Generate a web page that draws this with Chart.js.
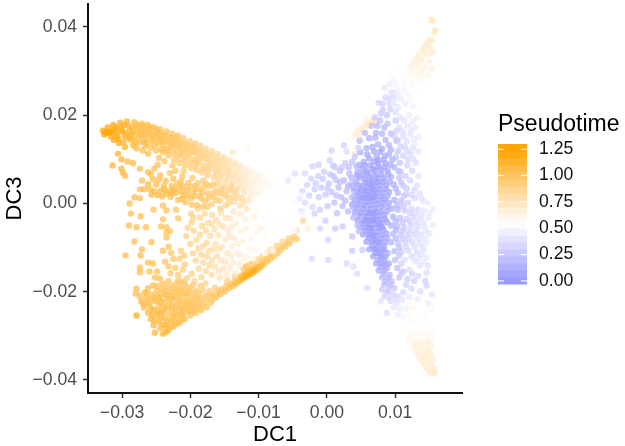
<!DOCTYPE html>
<html>
<head>
<meta charset="utf-8">
<style>
  html, body { margin: 0; padding: 0; background: #fff; }
  #wrap { width: 625px; height: 446px; }
</style>
<script src="https://cdn.jsdelivr.net/npm/chart.js@4"></script>
</head>
<body>
<div id="wrap"><canvas id="dcPlot" width="625" height="446"></canvas></div>
<script>
// each point is [DC1, DC3, pseudotime]
const faintBridge = [
[-.0085,.0022,.56],[-.0078,.0005,.55],[-.0072,.0028,.54],[-.0066,-.0012,.55],[-.006,.0012,.54],[-.0056,.0034,.53],[-.0052,-.0028,.54],[-.0046,.0006,.52],[-.0044,.0042,.52],[-.0094,-.0036,.58],
[-.0088,-.0058,.57],[-.0072,-.0044,.56],[-.0064,-.0066,.54],[-.0058,-.0046,.53],[-.0102,-.0018,.6],[-.0108,.0012,.62],[-.0098,.0036,.6],[-.0048,-.0062,.52],[-.0036,-.0022,.51],[-.0038,.0018,.5]
];
const upperArm = [
[-.0328,.0165,1.25],[-.0326,.0156,1.24],[-.0321,.0172,1.23],[-.0319,.016,1.24],[-.0316,.0151,1.22],[-.0313,.0178,1.2],[-.0311,.0168,1.22],[-.0308,.0158,1.2],[-.0306,.0146,1.18],[-.0303,.0183,1.15],
[-.0301,.0173,1.17],[-.0299,.0163,1.15],[-.0296,.0153,1.14],[-.0298,.0139,1.15],[-.0293,.0186,1.12],[-.0291,.0176,1.12],[-.0289,.0166,1.1],[-.0287,.0156,1.1],[-.0288,.0145,1.1],[-.0284,.0132,1.08],
[-.0282,.0184,1.1],[-.028,.0172,1.08],[-.0278,.0162,1.08],[-.0276,.015,1.07],[-.0274,.0139,1.07],[-.0271,.0181,1.06],[-.0269,.017,1.06],[-.0267,.0158,1.06],[-.0265,.0146,1.05],[-.0266,.0131,1.05],
[-.0262,.0178,1.05],[-.026,.0166,1.05],[-.0258,.0154,1.05],[-.0256,.0141,1.04],[-.0258,.0126,1.05],[-.0253,.0173,1.04],[-.0251,.0162,1.03],[-.0249,.015,1.03],[-.0247,.0137,1.02],[-.025,.012,1.03],
[-.0244,.0168,1.02],[-.0243,.0157,1.02],[-.0241,.0145,1.02],[-.0239,.0132,1.01],[-.024,.0116,1.01],[-.0235,.0163,1.01],[-.0234,.0151,1.01],[-.0232,.014,1],[-.023,.0126,1],[-.0232,.0109,1],
[-.0227,.0158,1],[-.0225,.0146,1],[-.0223,.0134,.99],[-.0221,.012,.98],[-.0224,.0099,.98],[-.0218,.0154,.98],[-.0217,.0141,.97],[-.0215,.0128,.97],[-.0213,.0112,.96],[-.0216,.0092,.97],
[-.021,.0148,.96],[-.0208,.0136,.96],[-.0206,.0122,.95],[-.0204,.0106,.95],[-.0208,.0086,.95],[-.0201,.0141,.94],[-.0199,.0129,.94],[-.0197,.0116,.93],[-.0196,.0099,.93],[-.0199,.0081,.94],
[-.0193,.0136,.92],[-.0191,.0123,.92],[-.0189,.0109,.91],[-.0187,.0092,.91],[-.0191,.0076,.92],[-.0185,.0131,.9],[-.0183,.0117,.9],[-.0181,.0102,.89],[-.0179,.0086,.89],[-.0183,.007,.9],
[-.0177,.0124,.88],[-.0175,.011,.88],[-.0173,.0095,.87],[-.0171,.0079,.87],[-.0175,.0064,.88],[-.0168,.0118,.86],[-.0166,.0103,.86],[-.0164,.0088,.85],[-.0162,.0072,.85],[-.0166,.0059,.85],
[-.016,.0112,.84],[-.0158,.0097,.83],[-.0156,.0081,.83],[-.0154,.0066,.82],[-.0158,.0053,.83],[-.0151,.0105,.81],[-.0149,.009,.81],[-.0147,.0075,.8],[-.0145,.006,.8],[-.0149,.0047,.8],
[-.0143,.0098,.79],[-.0141,.0083,.78],[-.0139,.0068,.78],[-.0137,.0053,.77],[-.0134,.0092,.76],[-.0132,.0076,.75],[-.013,.0061,.75],[-.0128,.0046,.74],[-.0126,.0084,.73],[-.0124,.0069,.72],
[-.0122,.0054,.72],[-.012,.0038,.71],[-.0117,.0078,.7],[-.0115,.0062,.69],[-.0113,.0047,.68],[-.0111,.0031,.68],[-.0108,.0071,.66],[-.0106,.0055,.65],[-.0104,.004,.65],[-.0102,.0024,.64],
[-.0099,.0063,.63],[-.0097,.0048,.62],[-.0095,.0033,.61],[-.009,.0055,.6],[-.0088,.004,.59],[-.0082,.0048,.58],[-.0079,.0032,.57],[-.0072,.0041,.56],[-.0138,.0116,.72],[-.0117,.0125,.62],
[-.0312,.0144,1.18],[-.0305,.0137,1.17],[-.0296,.0128,1.14],[-.0279,.0125,1.08],[-.027,.012,1.07],[-.0262,.0113,1.05],[-.0246,.0103,1.02],[-.0238,.0096,1],[-.0226,.0086,.99],[-.021,.0073,.96],
[-.0318,.0163,1.23],[-.0302,.0166,1.16],[-.0285,.0161,1.1],[-.0272,.0155,1.07],[-.0255,.0147,1.04],[-.0242,.0139,1.02],[-.0228,.013,1],[-.0212,.0121,.97],[-.0202,.0112,.94],[-.0188,.0101,.92],
[-.0172,.0087,.87],[-.0159,.0074,.84],[-.0144,.0072,.8],[-.0135,.0062,.76],[-.0121,.0062,.72],[-.0107,.0047,.66],[-.0277,.0178,1.08],[-.0249,.0168,1.03],[-.0222,.015,.99],[-.0195,.0128,.93],
[-.0264,.0136,1.05],[-.0236,.0124,1],[-.0218,.0106,.97],[-.0193,.0094,.92],[-.0176,.0079,.88],[-.0163,.0064,.85],[-.0147,.0054,.8],[-.0131,.0052,.75],[-.0116,.0038,.69],[-.0098,.0026,.62],
[-.0324,.0161,1.24],[-.0315,.0163,1.22],[-.0309,.0173,1.2],[-.0307,.0152,1.19],[-.0297,.0178,1.14],[-.0295,.0159,1.13],[-.0291,.0149,1.12],[-.0286,.0172,1.1],[-.0283,.0148,1.09],[-.0281,.0138,1.08],
[-.0273,.0166,1.07],[-.0268,.0175,1.06],[-.0268,.0141,1.06],[-.0263,.0159,1.05],[-.0259,.0172,1.05],[-.0254,.0156,1.04],[-.0252,.0133,1.04],[-.0247,.016,1.03],[-.0245,.0147,1.03],[-.0243,.0123,1.02],
[-.0238,.0155,1.01],[-.0236,.0143,1.01],[-.0233,.0118,1],[-.0229,.0149,1],[-.0226,.0138,1],[-.0224,.0113,.98],[-.022,.0144,.98],[-.0219,.0131,.97],[-.0214,.0137,.97],[-.0211,.0114,.96],
[-.0209,.0099,.96],[-.0205,.0132,.95],[-.0203,.0124,.94],[-.0201,.0092,.94],[-.0194,.0116,.93],[-.0192,.0085,.92],[-.0186,.0123,.9],[-.0184,.0109,.9],[-.0182,.0079,.9],[-.0178,.0116,.88],
[-.0176,.0101,.88],[-.0174,.0071,.87],[-.0169,.011,.86],[-.0167,.0094,.86],[-.0165,.0079,.85],[-.0161,.0103,.84],[-.0157,.0088,.83],[-.0155,.0059,.82],[-.0152,.0097,.81],[-.015,.0082,.81],
[-.0146,.0068,.8],[-.0142,.0089,.78],[-.014,.0061,.78],[-.0136,.0084,.77],[-.0133,.0069,.75],[-.0129,.0079,.73],[-.0127,.0054,.73],[-.0125,.0038,.72],[-.0119,.0071,.7],[-.0118,.0047,.7],
[-.0112,.0065,.67],[-.0109,.0039,.66],[-.0103,.006,.64],[-.0101,.0034,.63],[-.0093,.0045,.61],[-.0091,.0062,.6],[-.0086,.0049,.59],[-.0083,.0036,.58],[-.0076,.0046,.56],[-.007,.0034,.55]
];
const middleBand = [
[-.0314,.0086,1.12],[-.0301,.0079,1.1],[-.0299,.007,1.09],[-.0296,.0063,1.08],[-.0306,.0113,1.12],[-.0301,.01,1.1],[-.0292,.0095,1.08],[-.0284,.0091,1.08],[-.0274,.0079,1.06],[-.0271,.0052,1.05],
[-.0262,.0071,1.05],[-.0258,.0067,1.04],[-.0253,.0079,1.03],[-.0248,.0088,1.02],[-.0255,.0055,1.05],[-.0262,.0043,1.08],[-.0259,.0032,1.07],[-.0257,.002,1.08],[-.025,.0043,1.07],[-.0246,.0054,1.05],
[-.0244,.0028,1.08],[-.0241,.0016,1.06],[-.0239,.0039,1.07],[-.0236,.0051,1.05],[-.0232,.0028,1.06],[-.0229,.0015,1.05],[-.0227,.0039,1.05],[-.0225,.0056,1.03],[-.0221,.0024,1.05],[-.0218,.0008,1.04],
[-.0216,.0036,1.04],[-.0214,.005,1.02],[-.021,.0018,1.03],[-.0207,.0003,1.02],[-.0205,.003,1.03],[-.0203,.0047,1],[-.0199,.0012,1.01],[-.0196,.0025,1.01],[-.0193,.004,.99],[-.019,-.0004,1],
[-.0187,.0017,.99],[-.0185,.0032,.98],[-.0181,.0052,.96],[-.0178,.0006,.97],[-.0175,.0023,.97],[-.0172,.0039,.95],[-.0169,-.0002,.95],[-.0166,.0014,.95],[-.0163,.003,.93],[-.016,.0045,.92],
[-.0157,.0006,.93],[-.0154,.0022,.92],[-.0151,.0038,.9],[-.0148,-.0004,.9],[-.0145,.0013,.89],[-.0142,.003,.88],[-.0139,.0044,.87],[-.0136,.0005,.86],[-.0133,.0021,.86],[-.013,.0034,.84],
[-.0127,-.0005,.82],[-.0124,.0012,.82],[-.0121,.0026,.8],[-.0118,-.0012,.76],[-.0114,.0008,.75],[-.0111,.0018,.73],[-.0244,.0064,1.03],[-.023,.0069,1.01],[-.0212,.0061,1],[-.0197,.0058,.98],
[-.0268,.0032,1.06],[-.0274,.0012,1.05],[-.0222,.0074,1],[-.0204,.0018,1.03],[-.0184,.0011,1],[-.0168,.0022,.96],[-.0149,.0018,.91],[-.0175,-.0008,.95],[-.0156,-.0012,.9],[-.0224,.0031,1.07],
[-.0235,.0022,1.08],[-.0211,.0039,1.05],[-.0192,.0032,1.01],[-.0177,.0044,.97],[-.0162,.0008,.94],[-.0143,.0002,.88],[-.0138,.0015,.87],[-.0212,.001,1.04],[-.0198,-.0003,1],[-.0181,-.0007,.98],
[-.0253,.0027,1.07],[-.0248,.0019,1.07],[-.0238,.0031,1.07],[-.0226,.0023,1.06],[-.0219,.0045,1.03],[-.0213,.0027,1.04],[-.0201,.0038,1.02],[-.0194,.0017,1],[-.0189,.0046,.98],[-.0183,.0024,.99],
[-.018,.0037,.98],[-.0173,.0013,.96],[-.0167,.0043,.95],[-.0159,.0024,.94],[-.0155,.0032,.92],[-.0146,.0029,.89],[-.0141,.0037,.88],[-.0135,.0029,.86],[-.0129,.0013,.84],[-.0122,.0003,.8]
];
const innerScatter = [
[-.0289,0,1.05],[-.0282,.0014,1.05],[-.0274,.0032,1.05],[-.0287,-.0023,1.05],[-.0273,-.0029,1.05],[-.029,-.005,1.05],[-.0279,-.0054,1.05],[-.0265,-.0054,1.05],[-.0282,-.0086,1.05],[-.0257,-.0088,1.05],
[-.0295,-.0118,1.05],[-.0273,-.0118,1.05],[-.0271,-.0104,1.05],[-.0262,-.0134,1.05],[-.0255,-.0136,1.04],[-.0274,-.0145,1.05],[-.0274,-.0156,1.05],[-.026,-.0154,1.04],[-.0249,-.0154,1.03],[-.0252,-.0168,1.04],
[-.0245,-.017,1.03],[-.0254,-.0014,1.03],[-.024,-.0005,1.02],[-.0235,-.0016,1.02],[-.0221,-.0014,1],[-.0218,-.0034,1],[-.024,-.0036,1.02],[-.0243,-.0052,1.03],[-.0235,-.0054,1],[-.0235,-.0066,1],
[-.023,-.0063,1],[-.0235,-.0077,1],[-.0232,-.0098,1],[-.024,-.0107,1.02],[-.0228,-.0112,.98],[-.0225,-.0126,.98],[-.0237,-.0132,1],[-.0232,-.0143,.98],[-.0222,-.0146,.97],[-.0229,-.0158,.97],
[-.0218,-.0162,.96],[-.0214,-.0107,.94],[-.0216,-.0125,.95],[-.0209,-.0118,.93],[-.0208,-.0138,.93],[-.0211,-.015,.94],[-.02,-.0092,.9],[-.0206,-.0074,.92],[-.0204,-.0055,.9],[-.0198,-.0043,.9],
[-.0195,-.0062,.88],[-.0199,-.0023,.92],[-.0189,-.0012,.9],[-.0186,-.0032,.87],[-.0183,-.0051,.87],[-.0191,-.0082,.87],[-.0186,-.0071,.86],[-.0188,-.0102,.87],[-.0196,-.0113,.9],[-.0184,-.0116,.86],
[-.0192,-.0129,.88],[-.0181,-.0134,.85],[-.0188,-.0148,.87],[-.0177,-.0153,.84],[-.0198,-.0159,.9],[-.0184,-.0167,.86],[-.0173,-.0108,.83],[-.0176,-.0089,.84],[-.0171,-.0073,.82],[-.0174,-.0044,.84],
[-.0168,-.0026,.84],[-.0162,-.0038,.82],[-.0165,-.0058,.8],[-.0159,-.0072,.78],[-.0163,-.0092,.8],[-.0154,-.0098,.76],[-.0161,-.0119,.8],[-.0168,-.0128,.82],[-.0155,-.0129,.76],[-.0164,-.0143,.8],
[-.0152,-.0147,.76],[-.0169,-.0162,.82],[-.0157,-.0168,.78],[-.0147,-.016,.74],[-.0146,-.0112,.74],[-.0149,-.0083,.74],[-.0145,-.0062,.73],[-.0152,-.0052,.76],[-.0142,-.0034,.74],[-.0155,-.0022,.78],
[-.0137,-.0018,.73],[-.0134,-.0046,.7],[-.0136,-.0078,.7],[-.0139,-.0097,.7],[-.0132,-.0113,.68],[-.0137,-.0133,.7],[-.0128,-.0141,.68],[-.0134,-.0158,.7],[-.0123,-.0086,.65],[-.0126,-.0062,.66],
[-.012,-.0036,.68],[-.0118,-.0057,.66],[-.0113,-.0103,.63],[-.0118,-.0122,.64],[-.0108,-.0125,.62],[-.0105,-.0106,.6],[-.0112,-.0079,.62],[-.0104,-.0052,.6],[-.0098,-.0098,.58],[-.0092,-.0075,.6],
[-.0102,-.0066,.63],[-.0096,-.0056,.65],[-.0106,-.0031,.66],[-.0091,-.0112,.6],[-.0085,-.0092,.58],[-.0079,-.0108,.62],[-.0127,-.0024,.72],[-.0216,-.0176,.96],[-.0205,-.017,.93],[-.0194,-.0176,.9],
[-.0196,-.0032,.9],[-.0179,-.0023,.86],[-.0177,-.0062,.84],[-.0169,-.0046,.82],[-.0157,-.0047,.78],[-.0148,-.0033,.76],[-.0181,-.0096,.85],[-.0167,-.0104,.82],[-.0159,-.0103,.78],[-.0176,-.012,.84],
[-.0172,-.014,.83],[-.0158,-.0153,.78],[-.0149,-.0132,.75],[-.0142,-.0145,.72],[-.0141,-.0119,.72],[-.0127,-.0116,.68],[-.0125,-.0132,.66],[-.0131,-.0091,.68],[-.0143,-.0075,.72],[-.014,-.0053,.72]
];
const lowerCluster = [
[-.0279,-.0193,1.05],[-.028,-.0204,1.05],[-.0267,-.0202,1.04],[-.0255,-.0186,1.04],[-.0279,-.0254,1.18],[-.0274,-.021,1.05],[-.0262,-.0192,1.04],[-.0248,-.0187,1.03],[-.024,-.0182,1.02],[-.0232,-.0176,1.01],
[-.0272,-.0222,1.05],[-.0265,-.0214,1.05],[-.0257,-.0206,1.04],[-.0249,-.0199,1.04],[-.0241,-.0194,1.03],[-.0233,-.019,1.02],[-.0225,-.0186,1],[-.0217,-.0188,1],[-.0208,-.0183,.98],[-.02,-.019,.96],
[-.0268,-.0236,1.06],[-.026,-.0228,1.05],[-.0252,-.0221,1.05],[-.0244,-.0213,1.04],[-.0236,-.0207,1.03],[-.0228,-.0201,1.02],[-.022,-.0199,1],[-.0212,-.0197,.99],[-.0203,-.0201,.98],[-.0195,-.0203,.96],
[-.0262,-.0248,1.08],[-.0254,-.024,1.07],[-.0246,-.0231,1.05],[-.0238,-.0224,1.04],[-.023,-.0217,1.03],[-.0222,-.0212,1.02],[-.0214,-.021,1],[-.0206,-.0212,.99],[-.0198,-.0213,.98],[-.019,-.021,.96],
[-.0258,-.0262,1.1],[-.025,-.0254,1.08],[-.0242,-.0246,1.06],[-.0234,-.0238,1.05],[-.0226,-.023,1.04],[-.0218,-.0224,1.02],[-.021,-.0222,1],[-.0202,-.0224,.99],[-.0194,-.0224,.98],[-.0186,-.0222,.96],
[-.0254,-.0276,1.1],[-.0246,-.0268,1.08],[-.0238,-.026,1.07],[-.023,-.0252,1.05],[-.0222,-.0244,1.04],[-.0214,-.0236,1.02],[-.0206,-.0234,1],[-.0198,-.0235,.99],[-.019,-.0232,.98],[-.0178,-.0217,.96],
[-.0252,-.0293,1.12],[-.0244,-.0283,1.1],[-.0236,-.0274,1.08],[-.0228,-.0266,1.06],[-.022,-.0258,1.04],[-.0212,-.0249,1.02],[-.0204,-.0245,1],[-.0196,-.0244,1],[-.0172,-.0206,.96],[-.017,-.0225,1],
[-.024,-.0295,1.1],[-.0232,-.0287,1.08],[-.0224,-.0278,1.06],[-.0216,-.027,1.05],[-.0208,-.0262,1.03],[-.02,-.0254,1.02],[-.0192,-.0248,1],[-.0184,-.0242,1],[-.0167,-.0217,1],[-.0176,-.0235,1],
[-.0236,-.0292,1.1],[-.0228,-.0279,1.08],[-.0219,-.0272,1.05],[-.0212,-.0264,1.04],[-.0264,-.0202,1.05],[-.0243,-.0205,1.03],[-.0224,-.0193,1],[-.0211,-.0178,.97],[-.0196,-.0185,.95],[-.0182,-.0196,.94],
[-.0251,-.0212,1.05],[-.0237,-.0198,1.02],[-.0219,-.0177,.98],[-.0205,-.0206,.98],[-.0191,-.0198,.95],[-.0176,-.0208,.95],[-.0269,-.0228,1.06],[-.0246,-.0249,1.06],[-.0227,-.0241,1.04],[-.0209,-.0243,1],
[-.0188,-.0238,.98],[-.0256,-.0252,1.08],[-.0241,-.0275,1.08],[-.0225,-.0256,1.05],[-.0204,-.0224,1],[-.0192,-.0217,.97],[-.0183,-.0232,.98],[-.0233,-.0266,1.07],[-.0216,-.0251,1.02],[-.0198,-.0226,.99],
[-.0239,-.0235,1.05],[-.0216,-.0222,1],[-.0201,-.0243,1],[-.0247,-.0218,1.05],[-.0229,-.0209,1.02],[-.0258,-.0217,1.05],[-.0172,-.0198,.92],[-.0164,-.0191,.92],[-.0185,-.0187,.94],[-.0178,-.0181,.9],
[-.0253,-.0265,1.08],[-.0248,-.0243,1.06],[-.0243,-.0258,1.06],[-.0239,-.0247,1.05],[-.0235,-.0281,1.08],[-.0231,-.0229,1.03],[-.0223,-.0268,1.05],[-.0221,-.0234,1.02],[-.0213,-.0241,1.01],[-.0211,-.0255,1.02],
[-.0208,-.0228,.99],[-.0203,-.0236,1],[-.0199,-.0218,.98],[-.0194,-.0239,.99],[-.0187,-.0227,.96],[-.0181,-.0212,.94],[-.0179,-.0227,.96],[-.0174,-.0216,.95],[-.0243,-.0223,1.04],[-.0234,-.0212,1.02],
[-.0226,-.0216,1.01],[-.0218,-.0207,1],[-.0209,-.0203,.98],[-.0201,-.0197,.96],[-.0188,-.0203,.94],[-.0187,-.0216,.96],[-.0258,-.0238,1.07],[-.0263,-.0224,1.05],[-.0215,-.0196,.98],[-.0207,-.0191,.96]
];
const lowerEdge = [
[-.0168,-.0206,1.02],[-.0162,-.0212,1.04],[-.016,-.0198,1],[-.0154,-.0194,1.02],[-.0156,-.0205,1.05],[-.0149,-.0199,1.05],[-.0147,-.0186,1],[-.0143,-.0191,1.06],[-.014,-.0182,1.02],[-.0137,-.0187,1.06],
[-.0135,-.0176,1],[-.0133,-.0181,1.08],[-.013,-.017,1.05],[-.0128,-.0176,1.1],[-.0126,-.0165,1.06],[-.0124,-.0172,1.12],[-.0122,-.0161,1.08],[-.012,-.0167,1.2],[-.0118,-.0157,1.12],[-.0116,-.0163,1.22],
[-.0114,-.0153,1.1],[-.0112,-.016,1.22],[-.011,-.015,1.14],[-.0108,-.0156,1.2],[-.0106,-.0147,1.12],[-.0104,-.0152,1.18],[-.0102,-.0143,1.1],[-.01,-.0147,1.12],[-.0098,-.0138,1.06],[-.0096,-.0143,1.08],
[-.0094,-.0131,1.02],[-.0092,-.0137,1.04],[-.009,-.0125,1],[-.0087,-.0131,1.02],[-.0085,-.0119,.98],[-.0082,-.0125,1],[-.008,-.0112,.96],[-.0077,-.0119,.98],[-.0075,-.0106,.95],[-.0072,-.0113,.98],
[-.007,-.0099,.96],[-.0067,-.0105,.98],[-.0064,-.0094,.96],[-.0061,-.0098,.98],[-.0058,-.0088,.96],[-.0055,-.0091,.96],[-.0052,-.0082,.95],[-.0118,-.0143,1],[-.0108,-.0135,.95],[-.0101,-.0127,.9],
[-.0095,-.012,.88],[-.0122,-.0148,1],[-.0135,-.0165,.9],[-.0146,-.0175,.9],[-.0113,-.0138,.95],[-.0088,-.0112,.85],[-.0082,-.0104,.82],[-.0073,-.0095,.85],[-.0065,-.0086,.85],[-.0056,-.0079,.9],
[-.0048,-.0075,.95],[-.0044,-.0081,.95],[-.0035,-.0039,.85],[-.0044,-.0061,.8],[-.0028,-.0057,.7]
];
const blueWing = [
[-.004,.0012,.35],[-.0036,.0028,.32],[-.0032,.0002,.34],[-.0029,.0042,.3],[-.0026,.0018,.3],[-.0023,.0056,.3],[-.0021,-.0008,.32],[-.0018,.0032,.28],[-.0016,.0046,.28],[-.0013,.0062,.28],
[-.0012,.0014,.28],[-.001,-.0014,.28],[-.0008,.0036,.26],[-.0006,.0056,.26],[-.0004,.0072,.26],[-.0002,.002,.26],[.0001,-.0006,.24],[.0003,.0045,.24],[.0005,.0066,.24],[.0007,.0026,.24],
[.0009,.0086,.28],[.0011,.0002,.22],[.0013,.0054,.22],[.0015,-.0022,.22],[.0017,.0036,.2],[.0019,.0074,.22],[.0021,.0014,.2],[.0023,-.0006,.2],[.0025,.0052,.18],[.0027,.0092,.26],
[.0029,.0028,.18],[.0031,-.0018,.18],[.0033,.0068,.18],[.0035,.0043,.16],[.0037,.0014,.16],[.0039,-.0032,.15],[.0041,.0106,.25],[.0043,.0084,.18],[.0045,-.005,.17],[.0047,-.0063,.2],
[-.0022,-.0125,.34],[.0002,-.0128,.34],[.0029,-.0136,.34],[.0039,-.0143,.36],[.0044,-.0159,.36],[.0059,-.0191,.36],[.0079,-.0222,.4],[.0002,-.0082,.3],[.0037,-.0107,.26],[.0037,-.0075,.24],
[-.0002,-.0039,.28],[-.001,-.0057,.32],[.0012,-.0057,.26],[.0023,-.0052,.26],[-.0018,-.0023,.3],[-.0037,-.0018,.36],[.0007,.012,.32],[.0025,.0132,.3],[-.0021,.0084,.32],[-.0032,.0068,.34],
[-.0047,.0068,.38],[-.0057,.0052,.42],[.0004,.0098,.3],[.0022,.0082,.26],[.0029,.0118,.36],[.0012,.0082,.26],[-.0012,.0088,.3],[.0037,.0094,.22],[.0046,.0126,.3],[.0052,-.0105,.26],
[.0001,.0034,.25],[.001,.0062,.22],[.0014,.0018,.22],[.0019,.0048,.2],[.0027,.0006,.18],[.0031,.0039,.16],[.0032,.0082,.2],[.0036,.0058,.15],[.0038,-.0007,.13],[.004,.0028,.12]
];
const blueCore = [
[.0048,.0142,.18],[.0056,.016,.2],[.0062,.0148,.14],[.0066,.0176,.2],[.007,.0195,.26],[.0072,.016,.14],[.0078,.0188,.22],[.0082,.0212,.28],[.0075,.0134,.12],[.0084,.0172,.18],
[.0088,.02,.25],[.0092,.0226,.32],[.0094,.0158,.18],[.0086,.0144,.14],[.0076,.0228,.3],[.0086,.024,.34],[.0095,.0252,.38],[.0084,.0262,.42],[.0092,.027,.44],[.0099,.0242,.36],
[.0101,.0188,.26],[.0081,.0124,.1],[.0069,.0118,.1],[.0058,.0125,.1],[.0049,.0116,.1],[.0062,.0102,.08],[.0073,.0106,.08],[.0085,.0108,.1],[.0094,.0122,.14],[.0102,.0142,.2],
[.0054,.0094,.08],[.0045,.0071,.08],[.0064,.0086,.06],[.0075,.0092,.06],[.0086,.0091,.08],[.0096,.0099,.12],[.0052,.0078,.06],[.0061,.0068,.05],[.007,.0074,.05],[.0079,.0077,.06],
[.0089,.0074,.08],[.0099,.0082,.14],[.0048,.0058,.06],[.0056,.0056,.04],[.0066,.0053,.04],[.0075,.0058,.04],[.0084,.0057,.06],[.0094,.006,.1],[.0042,.0048,.07],[.0052,.0039,.04],
[.006,.0036,.03],[.0069,.0039,.03],[.0078,.0041,.04],[.0087,.0041,.07],[.0046,.0026,.05],[.0055,.002,.03],[.0064,.0022,.02],[.0073,.0024,.03],[.0082,.0024,.05],[.0091,.0026,.08],
[.0041,.0008,.06],[.0049,.0006,.03],[.0058,.0004,.02],[.0067,.0006,.02],[.0076,.0008,.03],[.0085,.0009,.06],[.0044,-.0011,.05],[.0053,-.0012,.02],[.0062,-.0014,.02],[.0071,-.0011,.02],
[.008,-.0008,.04],[.0089,-.0008,.07],[.0048,-.0028,.04],[.0057,-.003,.02],[.0066,-.0031,.01],[.0075,-.0028,.02],[.0084,-.0026,.05],[.0052,-.0046,.03],[.0061,-.0048,.01],[.007,-.0047,.01],
[.0079,-.0045,.03],[.0088,-.0042,.06],[.0056,-.0062,.03],[.0065,-.0064,.01],[.0074,-.0064,.01],[.0083,-.006,.04],[.0061,-.0078,.04],[.007,-.0082,.01],[.0079,-.008,.03],[.0088,-.0078,.08],
[.0066,-.0095,.05],[.0075,-.0098,.03],[.0084,-.0096,.06],[.0071,-.0112,.06],[.008,-.0114,.05],[.0089,-.0112,.1],[.0075,-.0128,.08],[.0084,-.013,.08],[.0079,-.0144,.1],[.0088,-.0146,.1],
[.0083,-.016,.14],[.0092,-.0162,.16],[.0086,-.0176,.18],[.0095,-.0176,.2],[.0091,-.019,.24],[.0099,-.0192,.26],[.0087,-.0202,.28],[.0097,-.0206,.32],[.0104,-.021,.34],[.0093,-.0221,.36],
[.0102,-.0224,.38],[.011,-.0218,.4],[.0098,-.0235,.42],[.0107,-.0238,.44],[.0088,-.0248,.36],[.0104,-.0252,.46],[.0115,-.0238,.48],[.0111,-.0258,.5],[.0058,-.0037,.02],[.0068,-.0023,.01],
[.0059,.0012,.02],[.0068,.0014,.02],[.0072,-.0037,.02],[.0063,-.0056,.01],[.0077,-.0055,.02],[.0055,.0029,.03],[.0069,.003,.02],[.0061,.0045,.03],[.0071,.0048,.03],[.0058,-.0021,.02],
[.0067,-.0072,.02],[.0074,-.0088,.02],[.0081,-.0104,.04],[.0086,-.0121,.06],[.0078,-.012,.06],[.0069,-.0103,.04],[.0083,-.0138,.08],[.0091,-.0136,.1],[.0064,.0012,.02],[.0049,.0016,.04],
[.0067,.0128,.1],[.0078,.0117,.08],[.0091,.0132,.14],[.0071,.0149,.14],[.0081,.0158,.16],[.0089,.0181,.2],[.0074,.0176,.18],[.0079,.0204,.26],[.0093,.0213,.3],[.0082,.0226,.3],
[.0091,.0238,.34],[.0075,.0098,.07],[.0059,.0111,.08],[.0083,.0099,.08],[.0091,.0111,.12],[.0056,.0086,.06],[.0069,.0095,.06],[.0047,.0087,.08],[.0058,.0073,.05],[.0067,.0079,.05],
[.0075,.0083,.05],[.0084,.0082,.07],[.0093,.0087,.1],[.0044,.0063,.07],[.0053,.0065,.05],[.0071,.0064,.04],[.008,.0067,.05],[.009,.0066,.08],[.0063,.0059,.04],[.0046,.0042,.06],
[.0056,.0047,.04],[.0065,.0044,.03],[.0075,.0049,.03],[.0083,.0049,.05],[.0092,.0049,.08],[.0039,.0035,.08],[.0049,.0031,.05],[.0058,.0028,.03],[.0066,.0031,.02],[.0077,.0032,.03],
[.0086,.0033,.06],[.0043,.0017,.07],[.0052,.0013,.03],[.0061,.0018,.02],[.0071,.0017,.02],[.008,.0016,.04],[.0089,.0017,.07],[.0037,-.0002,.08],[.0046,-.0002,.04],[.0055,-.0004,.02],
[.0064,-.0004,.01],[.0073,-.0001,.02],[.0082,.0001,.05],[.0091,.0002,.08],[.0041,-.002,.06],[.005,-.0021,.03],[.0063,-.0022,.01],[.0072,-.002,.01],[.0079,-.0019,.03],[.0088,-.0018,.06],
[.0045,-.0038,.05],[.0054,-.0039,.02],[.0063,-.004,.01],[.0068,-.0038,.01],[.0078,-.0036,.03],[.0085,-.0035,.05],[.0049,-.0055,.04],[.0058,-.0054,.02],[.0067,-.0056,.01],[.0076,-.0048,.02],
[.0081,-.0053,.03],[.0053,-.007,.05],[.0062,-.0071,.02],[.0071,-.0073,.01],[.008,-.0071,.03],[.0087,-.0068,.06],[.0058,-.0087,.05],[.0066,-.0087,.03],[.0077,-.0089,.03],[.0085,-.0087,.06],
[.0062,-.0104,.06],[.0072,-.0104,.04],[.0084,-.0105,.06],[.0068,-.012,.07],[.0075,-.0112,.05],[.0081,-.0122,.06],[.0072,-.0136,.08],[.0079,-.0135,.08],[.0087,-.0138,.1],[.0076,-.0152,.1],
[.0084,-.0152,.12],[.0081,-.0168,.16],[.009,-.0169,.18],[.0084,-.0183,.2],[.0094,-.0184,.22],[.0081,-.0195,.26],[.009,-.0198,.28],[.0084,-.0211,.32],[.0092,-.0214,.34],[.01,-.0216,.38]
];
const blueRight = [
[.0098,.0043,.14],[.0106,.0058,.22],[.0112,.004,.26],[.0104,.0024,.16],[.0116,.0021,.28],[.0122,.0052,.32],[.0128,.003,.34],[.0099,.0008,.12],[.0109,.0006,.2],[.0119,.0002,.28],
[.0129,.0012,.34],[.0136,.0022,.38],[.0142,.0005,.42],[.0095,-.0012,.1],[.0104,-.0014,.18],[.0114,-.0016,.26],[.0124,-.0012,.32],[.0133,-.0014,.36],[.0142,-.0016,.42],[.0156,-.0012,.45],
[.0097,-.003,.12],[.0107,-.0033,.2],[.0117,-.0035,.28],[.0127,-.003,.34],[.0137,-.0034,.38],[.0149,-.0032,.42],[.0094,-.005,.12],[.0103,-.0052,.18],[.0113,-.0054,.26],[.0123,-.005,.32],
[.0133,-.0052,.36],[.0143,-.0053,.4],[.0155,-.0048,.44],[.0097,-.0069,.16],[.0108,-.0071,.24],[.0118,-.0073,.3],[.0128,-.0069,.34],[.0138,-.0071,.38],[.015,-.0068,.42],[.0094,-.0088,.14],
[.0104,-.009,.24],[.0115,-.0088,.3],[.0125,-.0087,.34],[.0136,-.009,.38],[.0146,-.0088,.42],[.0099,-.0108,.18],[.0109,-.011,.26],[.0119,-.0107,.34],[.0132,-.0111,.36],[.0142,-.0105,.4],
[.01,-.0128,.2],[.0114,-.0128,.36],[.0123,-.013,.55],[.0134,-.0124,.42],[.0146,-.0123,.44],[.0103,-.0146,.22],[.0119,-.0146,.62],[.0127,-.0139,.6],[.0136,-.014,.4],[.0148,-.0141,.38],
[.0112,-.0154,.28],[.0125,-.0159,.3],[.0134,-.0164,.34],[.0146,-.0157,.36],[.0106,-.0168,.24],[.0118,-.0171,.26],[.0128,-.0175,.28],[.0144,-.0175,.3],[.0146,-.0186,.32],[.0116,-.0184,.3],
[.0124,-.0193,.32],[.0112,-.0201,.34],[.0137,-.0199,.36],[.0154,-.0206,.4],[.0121,-.0212,.44],[.0133,-.0217,.46],[.0148,-.0226,.46],[.0153,-.0238,.5],[.0105,.0073,.2],[.0115,.0062,.28],
[.0125,.0074,.34],[.0134,.0062,.4],[.0107,.0092,.24],[.0118,.0086,.3],[.013,.0092,.36],[.0112,.0108,.3],[.0123,.0112,.36],[.0134,.0118,.4],[.0115,.0127,.34],[.0128,.0134,.42],
[.0108,.0129,.3],[.0099,.0152,.3],[.0112,.0152,.38],[.0122,.0158,.4],[.0135,.0151,.45],[.0106,.0172,.36],[.0118,.0176,.42],[.013,.0172,.44],[.0108,.0195,.4],[.012,.02,.44],
[.0132,.0194,.46],[.0104,.0218,.42],[.0115,.0226,.45],[.0127,.022,.48],[.0106,.0245,.46],[.0119,.0248,.5],[.0098,.0282,.5],[.0112,.0272,.52],[.0124,.0268,.52],[.0106,.0296,.54],
[.0101,.0034,.14],[.0109,.0047,.22],[.0117,.0034,.28],[.0124,.0019,.32],[.0132,.0041,.38],[.0139,.0012,.4],[.0148,.0002,.44],[.0103,-.0004,.16],[.0112,-.0006,.24],[.0122,-.0022,.3],
[.013,-.0023,.36],[.0139,-.0025,.4],[.0151,-.0021,.44],[.0101,-.0041,.16],[.0111,-.0043,.24],[.0121,-.004,.3],[.0131,-.0042,.36],[.0141,-.0043,.4],[.0101,-.006,.16],[.0111,-.0062,.26],
[.0121,-.0063,.32],[.0131,-.0061,.36],[.0145,-.0062,.42],[.0101,-.0079,.18],[.0111,-.008,.28],[.0121,-.0078,.34],[.0133,-.0079,.38],[.0143,-.0079,.42],[.0106,-.0099,.22],[.0116,-.0098,.32],
[.0128,-.0098,.36],[.0139,-.0098,.4],[.0106,-.0118,.24],[.0124,-.012,.36],[.0139,-.0116,.4],[.0109,-.0137,.3],[.0129,-.0131,.4],[.0142,-.0133,.42],[.0109,-.0158,.26],[.0121,-.0151,.36],
[.0113,.0017,.26],[.0108,.0072,.24],[.0101,.0104,.22],[.0119,.0099,.32],[.0127,.0101,.36],[.0104,.0118,.26],[.0118,.0118,.34],[.0126,.0125,.4],[.0104,.0143,.28],[.0117,.0141,.36],
[.0128,.0146,.42],[.0102,.0165,.3],[.0111,.0163,.36],[.0124,.0167,.42],[.0101,.0206,.38],[.0113,.0188,.4],[.0125,.0185,.44],[.0098,.0228,.42],[.0109,.0236,.46],[.0121,.0235,.5],
[.0103,.0262,.5],[.0113,.0256,.5],[.0099,.0272,.5],[.0109,.0284,.54],[.0118,.0286,.56],[.0126,.0282,.56],[.0104,.031,.56],[.0095,.0296,.54],[.0115,.03,.56],[.0101,.0252,.44]
];
const topBranch = [
[.0157,.0388,.72],[.0159,.0392,.73],[.0152,.0416,.72],[.0155,.0414,.74],[.0149,.0368,.72],[.0154,.037,.72],[.0142,.0355,.7],[.0151,.0352,.7],[.0136,.0338,.68],[.0146,.0338,.7],
[.0154,.0342,.7],[.013,.0325,.67],[.0139,.0325,.68],[.015,.0322,.67],[.0124,.0312,.65],[.0134,.0312,.66],[.0144,.0308,.65],[.0154,.0305,.65],[.0121,.0295,.62],[.0131,.0296,.63],
[.014,.0292,.63],[.0149,.029,.62],[.0116,.0282,.58],[.0126,.028,.6],[.0136,.0278,.6],[.0145,.0276,.58],[.0111,.0268,.57],[.0135,.0262,.56],[.0141,.0346,.7],[.0146,.036,.71],
[.0133,.0332,.68],[.0128,.0318,.66],[.0137,.0302,.65],[.0125,.0302,.62],[.012,.0288,.6],[.0131,.0286,.61]
];
const midStreak = [
[.0058,.0182,.7],[.0066,.0186,.74],[.0072,.0188,.74],[.0052,.0172,.72],[.006,.0176,.74],[.0046,.0165,.7],[.0054,.0162,.71],[.004,.0152,.65],[.0048,.0154,.68],[.0034,.0146,.6],
[.0058,.0192,.65],[.0041,.0112,.72],[.002,.0055,.68],[.0014,.0044,.66],[.0033,.0068,.6],[.0058,.0025,.58],[.0088,.0008,.6],[.0066,.0065,.58],[.0042,.0158,.66],[.0063,.018,.73]
];
const bottomBranch = [
[.0159,-.0383,.72],[.0155,-.0385,.72],[.015,-.0381,.71],[.0156,-.0372,.71],[.0146,-.0372,.71],[.0152,-.0362,.7],[.0142,-.0362,.7],[.0147,-.0352,.69],[.0137,-.0352,.68],[.0156,-.0352,.69],
[.0152,-.0342,.69],[.0143,-.0342,.68],[.0133,-.0342,.68],[.0148,-.0332,.68],[.0139,-.0332,.68],[.013,-.0332,.66],[.0153,-.0325,.67],[.0144,-.0322,.66],[.0134,-.0322,.66],[.0125,-.0318,.64],
[.0151,-.0312,.65],[.0141,-.0312,.64],[.0131,-.0312,.64],[.012,-.0308,.61],[.0148,-.0298,.61],[.0137,-.0298,.61],[.0127,-.0298,.6],[.0117,-.0296,.58],[.0155,-.0296,.6],[.0142,-.0286,.58],
[.0131,-.0285,.58],[.0121,-.0284,.55],[.0112,-.0272,.56],[.0125,-.0268,.6],[.0134,-.0272,.54],[.0119,-.0252,.6],[.0126,-.0238,.62],[.0133,-.0248,.55],[.0143,-.0262,.52],[.0118,-.0232,.6],
[.0147,-.0356,.69],[.0142,-.0348,.69],[.0137,-.0336,.67],[.0147,-.0338,.68],[.0128,-.0326,.65],[.0138,-.0318,.65],[.0148,-.0316,.65],[.0123,-.0302,.61],[.0133,-.0292,.6],[.0145,-.0292,.59]
];
const pointLists = [faintBridge, blueWing, blueRight, blueCore, topBranch, midStreak, bottomBranch, upperArm, middleBand, innerScatter, lowerCluster, lowerEdge];

const xTicks = [-0.03, -0.02, -0.01, 0, 0.01];
const yTicks = [-0.04, -0.02, 0, 0.02, 0.04];
const legendTicks = [0, 0.25, 0.5, 0.75, 1, 1.25];
const legendRange = [-0.03, 1.3];

function pseudoColor(p, alpha) {
  // low blue, white middle, orange high
  const mid = 0.55;
  const low = [153, 153, 255], high = [255, 165, 0];
  const end = p < mid ? low : high;
  const t = Math.min(p < mid ? (mid - p) / mid : (p - mid) / (1.25 - mid), 1);
  const c = end.map(v => Math.round(255 + (v - 255) * t));
  if (p >= mid) c[2] = Math.round(255 * (1 - Math.pow(t, 1.1)));
  return `rgba(${c[0]},${c[1]},${c[2]},${alpha})`;
}

function tickText(v) {
  const s = Math.abs(v).toFixed(2);
  return v < -1e-9 ? '\u2212' + s : s;
}

// colour bar and its labels, ggplot style
const colourBar = {
  id: 'colourBar',
  afterDraw(chart) {
    const ctx = chart.ctx;
    const left = 498, width = 29, top = 144, bottom = 284, bins = 20;
    const yOf = p => bottom - (p - legendRange[0]) / (legendRange[1] - legendRange[0]) * (bottom - top);
    ctx.save();
    for (let i = 0; i < bins; i++) {
      const p = legendRange[0] + (i + 0.5) / bins * (legendRange[1] - legendRange[0]);
      ctx.fillStyle = pseudoColor(p, 1);
      const h = (bottom - top) / bins;
      ctx.fillRect(left, bottom - (i + 1) * h, width, h + 0.5);
    }
    ctx.fillStyle = '#000';
    ctx.font = '23px "Liberation Sans"';
    ctx.textAlign = 'left';
    ctx.textBaseline = 'alphabetic';
    ctx.fillText('Pseudotime', 498, 130.5);
    ctx.font = '17.6px "Liberation Sans"';
    ctx.textBaseline = 'middle';
    legendTicks.forEach(t => {
      const y = yOf(t);
      ctx.fillStyle = '#fff';
      ctx.fillRect(left, y - 0.5, 6, 1);
      ctx.fillRect(left + width - 6, y - 0.5, 6, 1);
      ctx.fillStyle = '#111';
      ctx.fillText(t.toFixed(2), 539, y);
    });
    ctx.restore();
  }
};

new Chart(document.getElementById('dcPlot'), {
  type: 'scatter',
  data: {
    datasets: pointLists.map(list => ({
      data: list.map(d => ({ x: d[0], y: d[1] })),
      pointBackgroundColor: list.map(d => pseudoColor(d[2], 0.75)),
      pointBorderWidth: 0,
      pointRadius: 3.2
    }))
  },
  options: {
    responsive: false,
    animation: false,
    layout: { padding: { top: 4, right: 163, bottom: 0, left: 0 } },
    plugins: { legend: { display: false }, tooltip: { enabled: false } },
    scales: {
      x: {
        type: 'linear', min: -0.0350, max: 0.0198,
        afterBuildTicks: s => { s.ticks = xTicks.map(v => ({ value: v })); },
        afterFit: s => { s.height = 53; s.paddingLeft = 0; s.paddingRight = 0; },
        grid: { drawOnChartArea: false, drawTicks: true, tickLength: 5, tickWidth: 1.5, tickColor: '#333' },
        border: { color: '#111', width: 2 },
        ticks: { color: '#4d4d4d', font: { family: 'Liberation Sans', size: 17.6 }, padding: 5, maxRotation: 0, callback: v => tickText(v) },
        title: { display: true, text: 'DC1', color: '#000', font: { family: 'Liberation Sans', size: 22 }, padding: { top: 0, bottom: -2 } }
      },
      y: {
        type: 'linear', min: -0.04295, max: 0.0452,
        afterBuildTicks: s => { s.ticks = yTicks.map(v => ({ value: v })); },
        afterFit: s => { s.width = 88; s.paddingTop = 0; s.paddingBottom = 0; },
        grid: { drawOnChartArea: false, drawTicks: true, tickLength: 5, tickWidth: 1.5, tickColor: '#333' },
        border: { color: '#111', width: 2 },
        ticks: { color: '#4d4d4d', font: { family: 'Liberation Sans', size: 17.6 }, padding: 6, callback: v => tickText(v) },
        title: { display: true, text: 'DC3', color: '#000', font: { family: 'Liberation Sans', size: 22 }, padding: { top: 2, bottom: 0 } }
      }
    }
  },
  plugins: [colourBar]
});
</script>
</body>
</html>
